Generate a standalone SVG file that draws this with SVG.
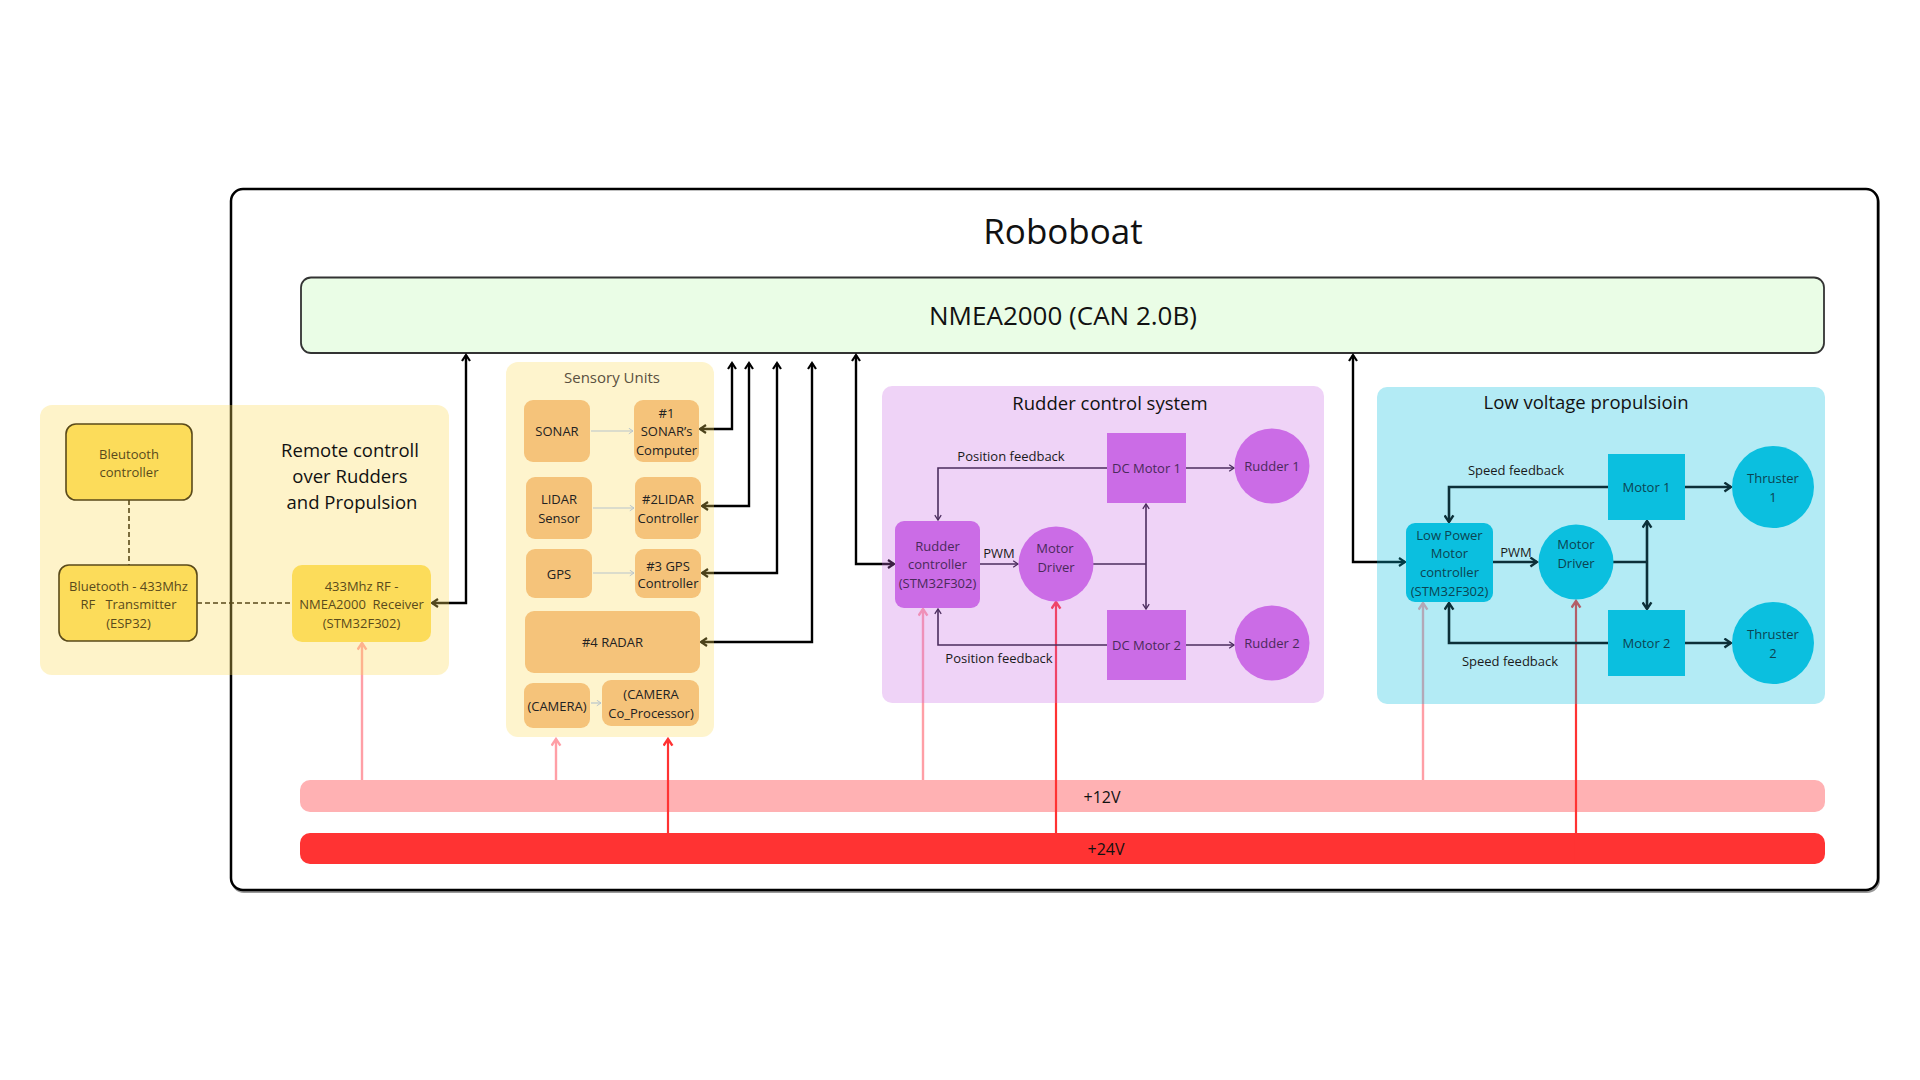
<svg xmlns="http://www.w3.org/2000/svg" width="1920" height="1080" viewBox="0 0 1920 1080">
<defs>
<style>
text{font-family:"Open Sans","Noto Sans","DejaVu Sans",sans-serif;text-anchor:middle;white-space:pre}
.t13{font-size:13px}
.ttl{font-size:18.5px;fill:#111}
.yel{fill:#594a1c}
.snd{fill:#222}
.pur{fill:#4a2a5a}
.tea{fill:#0b4452}
.lbl{font-size:13px;fill:#1a1a1a}
.bus{fill:none;stroke:#000;stroke-width:2.4}
.pk{fill:none;stroke:#FF9FA6;stroke-width:2.4}
.rd{fill:none;stroke:#FF3333;stroke-width:2.2}
.pl{fill:none;stroke:#4b2d5e;stroke-width:1.6}
.tl{fill:none;stroke:#0c2f38;stroke-width:2.6}
.gl{fill:none;stroke:#b8c4cc;stroke-width:1.2}
.dash{fill:none;stroke:#5a4a1a;stroke-width:1.6;stroke-dasharray:5 3}
</style>
<marker id="aB" viewBox="0 0 10 10" refX="8" refY="5" markerWidth="10" markerHeight="10" markerUnits="userSpaceOnUse" orient="auto-start-reverse"><path d="M2,1 L8,5 L2,9" fill="none" stroke="#000" stroke-width="2.2"/></marker>
<marker id="aP" viewBox="0 0 10 10" refX="8" refY="5" markerWidth="8" markerHeight="8" markerUnits="userSpaceOnUse" orient="auto-start-reverse"><path d="M2,1 L8,5 L2,9" fill="none" stroke="#4b2d5e" stroke-width="1.6"/></marker>
<marker id="aT" viewBox="0 0 10 10" refX="8" refY="5" markerWidth="11" markerHeight="11" markerUnits="userSpaceOnUse" orient="auto-start-reverse"><path d="M2,1 L8,5 L2,9" fill="none" stroke="#0c2f38" stroke-width="2.2"/></marker>
<marker id="aG" viewBox="0 0 10 10" refX="8" refY="5" markerWidth="7" markerHeight="7" markerUnits="userSpaceOnUse" orient="auto"><path d="M2,1 L8,5 L2,9" fill="none" stroke="#b8c4cc" stroke-width="1.4"/></marker>
<marker id="aK" viewBox="0 0 10 10" refX="8" refY="5" markerWidth="11" markerHeight="11" markerUnits="userSpaceOnUse" orient="auto"><path d="M2,1 L8,5 L2,9" fill="none" stroke="#FF9FA6" stroke-width="2.2"/></marker>
<marker id="aR" viewBox="0 0 10 10" refX="8" refY="5" markerWidth="11" markerHeight="11" markerUnits="userSpaceOnUse" orient="auto"><path d="M2,1 L8,5 L2,9" fill="none" stroke="#FF3333" stroke-width="2.2"/></marker>
</defs>
<rect width="1920" height="1080" fill="#fff"/>

<g id="roboboat">
<rect x="232" y="191" width="1647" height="701" rx="12" fill="none" stroke="#999" stroke-width="2"/>
<rect x="231" y="189" width="1647" height="701" rx="12" fill="#fff" stroke="#000" stroke-width="2.5"/>
<text x="1063" y="244" style="font-size:35px;fill:#111">Roboboat</text>
</g>

<g id="nmea2000">
<rect x="301" y="277.5" width="1523" height="75.5" rx="10" fill="#EAFDE6" stroke="#333" stroke-width="1.8"/>
<text x="1063" y="325" style="font-size:26px;fill:#111">NMEA2000 (CAN 2.0B)</text>
</g>

<g id="v12">
<rect x="300" y="780" width="1525" height="32" rx="10" fill="#FFB1B3"/>
<text x="1102" y="803" style="font-size:16px;fill:#111">+12V</text>
</g>
<g id="v24">
<rect x="300" y="833" width="1525" height="31" rx="10" fill="#FF3333"/>
<text x="1106" y="855" style="font-size:16px;fill:#111">+24V</text>
</g>

<g id="connectors">
<path class="bus" d="M466,355 V603 H432" marker-start="url(#aB)" marker-end="url(#aB)"/>
<path class="bus" d="M732,363 V429 H700" marker-start="url(#aB)" marker-end="url(#aB)"/>
<path class="bus" d="M749,363 V506 H702" marker-start="url(#aB)" marker-end="url(#aB)"/>
<path class="bus" d="M777,363 V573 H702" marker-start="url(#aB)" marker-end="url(#aB)"/>
<path class="bus" d="M812,363 V642 H701" marker-start="url(#aB)" marker-end="url(#aB)"/>
<path class="bus" d="M856,355 V564 H894" marker-start="url(#aB)" marker-end="url(#aB)"/>
<path class="bus" d="M1353,355 V562 H1405" marker-start="url(#aB)" marker-end="url(#aB)"/>
<path class="pk" d="M362,780 V643" marker-end="url(#aK)"/>
<path class="pk" d="M556,780 V739" marker-end="url(#aK)"/>
<path class="pk" d="M923,780 V609" marker-end="url(#aK)"/>
<path class="pk" d="M1423,780 V603" marker-end="url(#aK)"/>
<path class="rd" d="M668,833 V739" marker-end="url(#aR)"/>
<path class="rd" d="M1056,833 V602" marker-end="url(#aR)"/>
<path class="rd" d="M1576,864 V601" marker-end="url(#aR)"/>
</g>

<g id="remote-control">
<rect x="40" y="405" width="409" height="270" rx="12" fill="#FCDC5A" fill-opacity="0.33"/>
<text class="ttl" x="350" y="456.5">Remote controll</text>
<text class="ttl" x="350" y="482.5">over Rudders</text>
<text class="ttl" x="352" y="508.5">and Propulsion</text>
</g>
<g id="sensory-units">
<rect x="506" y="362" width="208" height="375" rx="12" fill="#FCDC5A" fill-opacity="0.3"/>
<text x="612" y="383" style="font-size:15px;fill:#5a5040">Sensory Units</text>
</g>
<g id="rudder-control">
<rect x="882" y="386" width="442" height="317" rx="10" fill="#CB6CE6" fill-opacity="0.3"/>
<text class="ttl" x="1110" y="409.5">Rudder control system</text>
</g>
<g id="propulsion">
<rect x="1377" y="387" width="448" height="317" rx="10" fill="#0BBFDF" fill-opacity="0.31"/>
<text class="ttl" x="1586" y="408.5">Low voltage propulsioin</text>
</g>

<g id="inner-connectors">
<path class="dash" d="M129,500 V565"/>
<path class="dash" d="M197,603 H292"/>
<path class="gl" d="M591,431 H633" marker-end="url(#aG)"/>
<path class="gl" d="M593,508 H634" marker-end="url(#aG)"/>
<path class="gl" d="M593,573 H634" marker-end="url(#aG)"/>
<path class="gl" d="M591,703 H601" marker-end="url(#aG)"/>
<path class="pl" d="M1107,468 H938 V520" marker-end="url(#aP)"/>
<path class="pl" d="M1107,645 H938 V609" marker-end="url(#aP)"/>
<path class="pl" d="M980,564 H1018" marker-end="url(#aP)"/>
<path class="pl" d="M1093,564 H1146"/>
<path class="pl" d="M1146,504 V609" marker-start="url(#aP)" marker-end="url(#aP)"/>
<path class="pl" d="M1186,468 H1234" marker-end="url(#aP)"/>
<path class="pl" d="M1186,645 H1234" marker-end="url(#aP)"/>
<text class="lbl" x="1011" y="460.5">Position feedback</text>
<text class="lbl" x="999" y="662.5">Position feedback</text>
<text class="lbl" x="999" y="557.5">PWM</text>
<path class="tl" d="M1608,487 H1449 V522" marker-end="url(#aT)"/>
<path class="tl" d="M1608,643 H1449 V603" marker-end="url(#aT)"/>
<path class="tl" d="M1493,562 H1537" stroke-width="1.8" marker-end="url(#aT)"/>
<path class="tl" d="M1613,562 H1647" stroke-width="1.8"/>
<path class="tl" d="M1647,521 V609" marker-start="url(#aT)" marker-end="url(#aT)"/>
<path class="tl" d="M1685,487 H1731" marker-end="url(#aT)"/>
<path class="tl" d="M1685,643 H1731" marker-end="url(#aT)"/>
<text class="lbl" x="1516" y="474.5">Speed feedback</text>
<text class="lbl" x="1510" y="665.5">Speed feedback</text>
<text class="lbl" x="1516" y="556.5">PWM</text>
</g>

<g id="bleutooth-controller">
<rect x="66" y="424" width="126" height="76" rx="10" fill="#FCDC5A" stroke="#5a4a1a" stroke-width="1.6"/>
<text class="t13 yel" x="129" y="458.5">Bleutooth</text>
<text class="t13 yel" x="129" y="476.5">controller</text>
</g>
<g id="bt-transmitter">
<rect x="59" y="565" width="138" height="76" rx="10" fill="#FCDC5A" stroke="#5a4a1a" stroke-width="1.6"/>
<text class="t13 yel" x="128.5" y="590.5">Bluetooth - 433Mhz</text>
<text class="t13 yel" x="128.5" y="608.5">RF   Transmitter</text>
<text class="t13 yel" x="128.5" y="627.5">(ESP32)</text>
</g>
<g id="rf-receiver">
<rect x="292" y="565" width="139" height="77" rx="10" fill="#FCDC5A"/>
<text class="t13 yel" x="361.5" y="590.5">433Mhz RF -</text>
<text class="t13 yel" x="361.5" y="608.5">NMEA2000  Receiver</text>
<text class="t13 yel" x="361.5" y="627.5">(STM32F302)</text>
</g>

<g id="sonar"><rect x="524" y="400" width="66" height="62" rx="9" fill="#F5C37A"/><text class="t13 snd" x="557" y="435.5">SONAR</text></g>
<g id="sonar-computer"><rect x="634" y="400" width="65" height="62" rx="9" fill="#F5C37A"/><text class="t13 snd" x="666.5" y="417.5">#1</text><text class="t13 snd" x="666.5" y="435.5">SONAR’s</text><text class="t13 snd" x="666.5" y="454.5">Computer</text></g>
<g id="lidar-sensor"><rect x="526" y="477" width="66" height="62" rx="9" fill="#F5C37A"/><text class="t13 snd" x="559" y="503.5">LIDAR</text><text class="t13 snd" x="559" y="522.5">Sensor</text></g>
<g id="lidar-controller"><rect x="635" y="477" width="66" height="62" rx="9" fill="#F5C37A"/><text class="t13 snd" x="668" y="503.5">#2LIDAR</text><text class="t13 snd" x="668" y="522.5">Controller</text></g>
<g id="gps"><rect x="526" y="549" width="66" height="49" rx="9" fill="#F5C37A"/><text class="t13 snd" x="559" y="578.5">GPS</text></g>
<g id="gps-controller"><rect x="635" y="549" width="66" height="49" rx="9" fill="#F5C37A"/><text class="t13 snd" x="668" y="570.5">#3 GPS</text><text class="t13 snd" x="668" y="587.5">Controller</text></g>
<g id="radar"><rect x="525" y="611" width="175" height="62" rx="9" fill="#F5C37A"/><text class="t13 snd" x="612.5" y="646.5">#4 RADAR</text></g>
<g id="camera"><rect x="524" y="683" width="66" height="45" rx="9" fill="#F5C37A"/><text class="t13 snd" x="557" y="710.5">(CAMERA)</text></g>
<g id="camera-coprocessor"><rect x="602" y="680" width="97" height="46" rx="9" fill="#F5C37A"/><text class="t13 snd" x="651" y="698.5">(CAMERA</text><text class="t13 snd" x="651" y="717.5">Co_Processor)</text></g>

<g id="rudder-controller"><rect x="895" y="521" width="85" height="87" rx="9" fill="#CB6CE6"/><text class="t13 pur" x="937.5" y="550.5">Rudder</text><text class="t13 pur" x="937.5" y="568.5">controller</text><text class="t13 pur" x="937.5" y="587.5">(STM32F302)</text></g>
<g id="rudder-motor-driver"><circle cx="1056" cy="564" r="37.5" fill="#CB6CE6"/><text class="t13 pur" x="1055" y="552.5">Motor</text><text class="t13 pur" x="1056" y="571.5">Driver</text></g>
<g id="dc-motor-1"><rect x="1107" y="433" width="79" height="70" fill="#CB6CE6"/><text class="t13 pur" x="1146.5" y="473">DC Motor 1</text></g>
<g id="dc-motor-2"><rect x="1107" y="610" width="79" height="70" fill="#CB6CE6"/><text class="t13 pur" x="1146.5" y="650">DC Motor 2</text></g>
<g id="rudder-1"><circle cx="1272" cy="466" r="37.5" fill="#CB6CE6"/><text class="t13 pur" x="1272" y="471">Rudder 1</text></g>
<g id="rudder-2"><circle cx="1272" cy="643" r="37.5" fill="#CB6CE6"/><text class="t13 pur" x="1272" y="648">Rudder 2</text></g>

<g id="low-power-motor-controller"><rect x="1406" y="523" width="87" height="79" rx="9" fill="#0BBFDF"/><text class="t13 tea" x="1449.5" y="539.5">Low Power</text><text class="t13 tea" x="1449.5" y="557.5">Motor</text><text class="t13 tea" x="1449.5" y="576.5">controller</text><text class="t13 tea" x="1449.5" y="595.5">(STM32F302)</text></g>
<g id="prop-motor-driver"><circle cx="1576" cy="562" r="37.5" fill="#0BBFDF"/><text class="t13 tea" x="1576" y="548.5">Motor</text><text class="t13 tea" x="1576" y="567.5">Driver</text></g>
<g id="motor-1"><rect x="1608" y="454" width="77" height="66" fill="#0BBFDF"/><text class="t13 tea" x="1646.5" y="491.5">Motor 1</text></g>
<g id="motor-2"><rect x="1608" y="610" width="77" height="66" fill="#0BBFDF"/><text class="t13 tea" x="1646.5" y="647.5">Motor 2</text></g>
<g id="thruster-1"><circle cx="1773" cy="487" r="41" fill="#0BBFDF"/><text class="t13 tea" x="1773" y="482.5">Thruster</text><text class="t13 tea" x="1773" y="501.5">1</text></g>
<g id="thruster-2"><circle cx="1773" cy="643" r="41" fill="#0BBFDF"/><text class="t13 tea" x="1773" y="638.5">Thruster</text><text class="t13 tea" x="1773" y="657.5">2</text></g>
</svg>
